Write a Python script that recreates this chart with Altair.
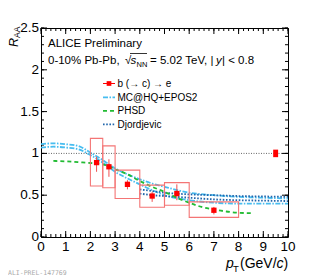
import altair as alt
import pandas as pd

W, H = 247, 209
FONT = "Liberation Sans"

# ---- measured b(->c)->e RAA ----
pt = [2.25, 2.75, 3.5, 4.5, 5.5, 7.0]
pt_lo = [2.0, 2.5, 3.0, 4.0, 5.0, 6.0]
pt_hi = [2.5, 3.0, 4.0, 5.0, 6.0, 8.0]
raa = [0.89, 0.84, 0.63, 0.49, 0.52, 0.32]
stat_lo = [0.78, 0.72, 0.57, 0.42, 0.44, 0.27]
stat_hi = [0.96, 0.93, 0.68, 0.54, 0.63, 0.36]
sys_lo = [0.61, 0.59, 0.46, 0.355, 0.38, 0.235]
sys_hi = [1.18, 1.09, 0.80, 0.62, 0.65, 0.42]

# normalisation uncertainty box
norm_x = [9.4, 9.6]
norm_y = [0.955, 1.045]

# ---- models ----
mc_pt = [0, 0.5, 1, 1.5, 2, 2.5, 3, 3.5, 4, 4.5, 5, 6, 7, 8, 9, 10]
mc_hi = [1.11, 1.12, 1.11, 1.09, 1.01, 0.92, 0.82, 0.75, 0.69, 0.64, 0.60, 0.53, 0.50, 0.48, 0.47, 0.46]
mc_lo = [1.07, 1.08, 1.07, 1.05, 0.98, 0.89, 0.78, 0.70, 0.63, 0.56, 0.50, 0.44, 0.41, 0.40, 0.40, 0.40]

dj_pt = [4, 4.5, 5, 6, 7, 8, 9, 10]
dj_hi = [0.57, 0.55, 0.53, 0.51, 0.50, 0.49, 0.485, 0.48]
dj_lo = [0.52, 0.50, 0.49, 0.47, 0.45, 0.44, 0.435, 0.43]

phsd_pt = [0.5, 1, 1.5, 2, 2.5, 3, 3.5, 4, 4.5, 5, 5.5, 6, 6.5, 7, 7.5, 8, 8.5]
phsd_v = [0.91, 0.905, 0.895, 0.885, 0.87, 0.81, 0.75, 0.67, 0.60, 0.54, 0.47, 0.41, 0.36, 0.33, 0.305, 0.29, 0.285]

# ---- axes ----
x_major = [0, 1, 2, 3, 4, 5, 6, 7, 8, 9, 10]
x_labels = ["0", "1", "2", "3", "4", "5", "6", "7", "8", "9", "10"]
x_minor = [round(i * 0.2, 2) for i in range(51)]
y_major = [0, 0.5, 1, 1.5, 2, 2.5]
y_labels = ["0", "0.5", "1", "1.5", "2", "2.5"]
y_minor = [round(i * 0.1, 2) for i in range(26)]

legend_labels = ["b (\u2192 c) \u2192 e", "MC@HQ+EPOS2", "PHSD", "Djordjevic"]

MC_COL = "#47bdf0"
DJ_COL = "#2166ac"
PH_COL = "#22bb33"
RED = "#ff0000"
BOX_COL = "#f47575"

xs = alt.Scale(domain=[0, 10], nice=False, zero=False)
ys = alt.Scale(domain=[0, 2.5], nice=False, zero=False)


def X(f):
    return alt.X(f, type="quantitative", scale=xs, axis=None)


def Y(f):
    return alt.Y(f, type="quantitative", scale=ys, axis=None)


layers = []

# unity line
unity = alt.Chart(pd.DataFrame({"x": [0], "x2": [10], "y": [1]})).mark_rule(
    color="#666666", strokeDash=[1, 1.5], strokeWidth=1
).encode(x=X("x"), x2="x2", y=Y("y"))
layers.append(unity)


# ticks (inside, mirrored)
def yticks(vals, length):
    base = alt.Chart(pd.DataFrame({"v": vals})).mark_rule(color="black", strokeWidth=1)
    return [base.encode(y=Y("v"), x=alt.value(0), x2=alt.value(length)),
            base.encode(y=Y("v"), x=alt.value(W - length), x2=alt.value(W))]


def xticks(vals, length):
    base = alt.Chart(pd.DataFrame({"v": vals})).mark_rule(color="black", strokeWidth=1)
    return [base.encode(x=X("v"), y=alt.value(H - length), y2=alt.value(H)),
            base.encode(x=X("v"), y=alt.value(0), y2=alt.value(length))]


layers += yticks(y_minor, 3) + yticks(y_major, 6) + xticks(x_minor, 3) + xticks(x_major, 6)

# tick labels
layers.append(alt.Chart(pd.DataFrame({"v": x_major, "lab": x_labels})).mark_text(
    font=FONT, fontSize=13.5, align="center", baseline="top", color="black"
).encode(x=X("v"), y=alt.value(H + 3), text="lab:N"))
layers.append(alt.Chart(pd.DataFrame({"v": y_major, "lab": y_labels})).mark_text(
    font=FONT, fontSize=13.5, align="right", baseline="middle", color="black"
).encode(y=Y("v"), x=alt.value(-2), text="lab:N"))

# models
mc_df = pd.DataFrame({"pt": mc_pt * 2, "v": mc_hi + mc_lo, "b": ["hi"] * len(mc_pt) + ["lo"] * len(mc_pt)})
dj_df = pd.DataFrame({"pt": dj_pt * 2, "v": dj_hi + dj_lo, "b": ["hi"] * len(dj_pt) + ["lo"] * len(dj_pt)})
ph_df = pd.DataFrame({"pt": phsd_pt, "v": phsd_v})

layers.append(alt.Chart(mc_df).mark_line(color=MC_COL, strokeWidth=1.8, strokeDash=[5, 1.5, 1.5, 1.5],
                                          interpolate="monotone")
              .encode(x=X("pt"), y=Y("v"), detail="b:N"))
layers.append(alt.Chart(dj_df).mark_line(color=DJ_COL, strokeWidth=1.8, strokeDash=[1.6, 1.6],
                                          interpolate="monotone")
              .encode(x=X("pt"), y=Y("v"), detail="b:N"))
layers.append(alt.Chart(ph_df).mark_line(color=PH_COL, strokeWidth=1.8, strokeDash=[4, 3],
                                          interpolate="monotone")
              .encode(x=X("pt"), y=Y("v")))

# data
meas = pd.DataFrame(dict(pt=pt, lo=pt_lo, hi=pt_hi, raa=raa, slo=stat_lo, shi=stat_hi,
                         ylo=sys_lo, yhi=sys_hi))
layers.append(alt.Chart(meas).mark_rect(fillOpacity=0, stroke=BOX_COL, strokeWidth=1.1)
              .encode(x=X("lo"), x2="hi", y=Y("ylo"), y2="yhi"))
layers.append(alt.Chart(meas).mark_rule(color="#f05050", strokeWidth=1)
              .encode(x=X("pt"), y=Y("slo"), y2="shi"))
layers.append(alt.Chart(meas).mark_square(color=RED, size=28, opacity=1)
              .encode(x=X("pt"), y=Y("raa")))
layers.append(alt.Chart(pd.DataFrame({"x": [norm_x[0]], "x2": [norm_x[1]],
                                      "y": [norm_y[0]], "y2": [norm_y[1]]}))
              .mark_rect(color=RED).encode(x=X("x"), x2="x2", y=Y("y"), y2="y2"))


# text helper
def txt(s, x, y, size, style="normal", angle=0, color="black", font=FONT):
    return alt.Chart(pd.DataFrame({"t": [s]})).mark_text(
        text=s, font=font, fontSize=size, fontStyle=style, angle=angle, color=color,
        align="left", baseline="alphabetic"
    ).encode(x=alt.value(x), y=alt.value(y))


def seg(x1, x2, y, color, width, dash=None):
    kw = dict(color=color, strokeWidth=width)
    if dash:
        kw["strokeDash"] = dash
    return alt.Chart(pd.DataFrame({"a": [0]})).mark_rule(**kw).encode(
        x=alt.value(x1), x2=alt.value(x2), y=alt.value(y))


# legend
ly = [55.5, 69.3, 82.8, 96.3]
layers.append(seg(62, 74, ly[0], RED, 1))
layers.append(alt.Chart(pd.DataFrame({"a": [0]})).mark_square(color=RED, size=22, opacity=1)
              .encode(x=alt.value(68), y=alt.value(ly[0])))
layers.append(seg(62, 74, ly[1], MC_COL, 1.8, [5, 1.5, 1.5, 1.5]))
layers.append(seg(62, 74, ly[2], PH_COL, 1.8, [4, 3]))
layers.append(seg(62, 74, ly[3], DJ_COL, 1.8, [1.6, 1.6]))
for lab, yy in zip(legend_labels, ly):
    layers.append(txt(lab, 76.5, yy + 3.5, 10))

# header text
TS = 11.5
layers.append(txt("ALICE Preliminary", 7, 19, TS))
layers.append(txt("0-10% Pb-Pb,", 7, 35.5, TS))
layers.append(txt("\u221a", 84, 35.5, TS))
layers.append(seg(89, 106, 25.5, "black", 0.8))
layers.append(txt("s", 89.5, 35.5, TS, "italic"))
layers.append(txt("NN", 95.5, 38.5, 7.5))
layers.append(txt("= 5.02 TeV, |", 109, 35.5, TS))
layers.append(txt("y", 175, 35.5, TS, "italic"))
layers.append(txt("| < 0.8", 181, 35.5, TS))

# axis titles
layers.append(txt("R", -23.5, 19, 12.5, "italic", angle=270))
layers.append(txt("AA", -21.5, 10, 8.5, angle=270))
layers.append(txt("p", 185, 239.5, 14, "italic"))
layers.append(txt("T", 192, 244, 9.5))
layers.append(txt("(GeV/", 199, 239.5, 14))
layers.append(txt("c", 235.5, 239.5, 14, "italic"))
layers.append(txt(")", 242.5, 239.5, 14))

# watermark
layers.append(txt("ALI-PREL-147769", -33, 247, 6.5, color="#aaaaaa", font="DejaVu Sans Mono"))

chart = alt.layer(*layers).properties(
    width=W, height=H,
    autosize=alt.AutoSizeParams(type="none"),
    padding={"left": 33, "top": 20, "right": 24, "bottom": 45},
).configure_view(stroke="black", strokeWidth=1)

chart.save("out.html", embed_options={"renderer": "svg", "actions": False})
